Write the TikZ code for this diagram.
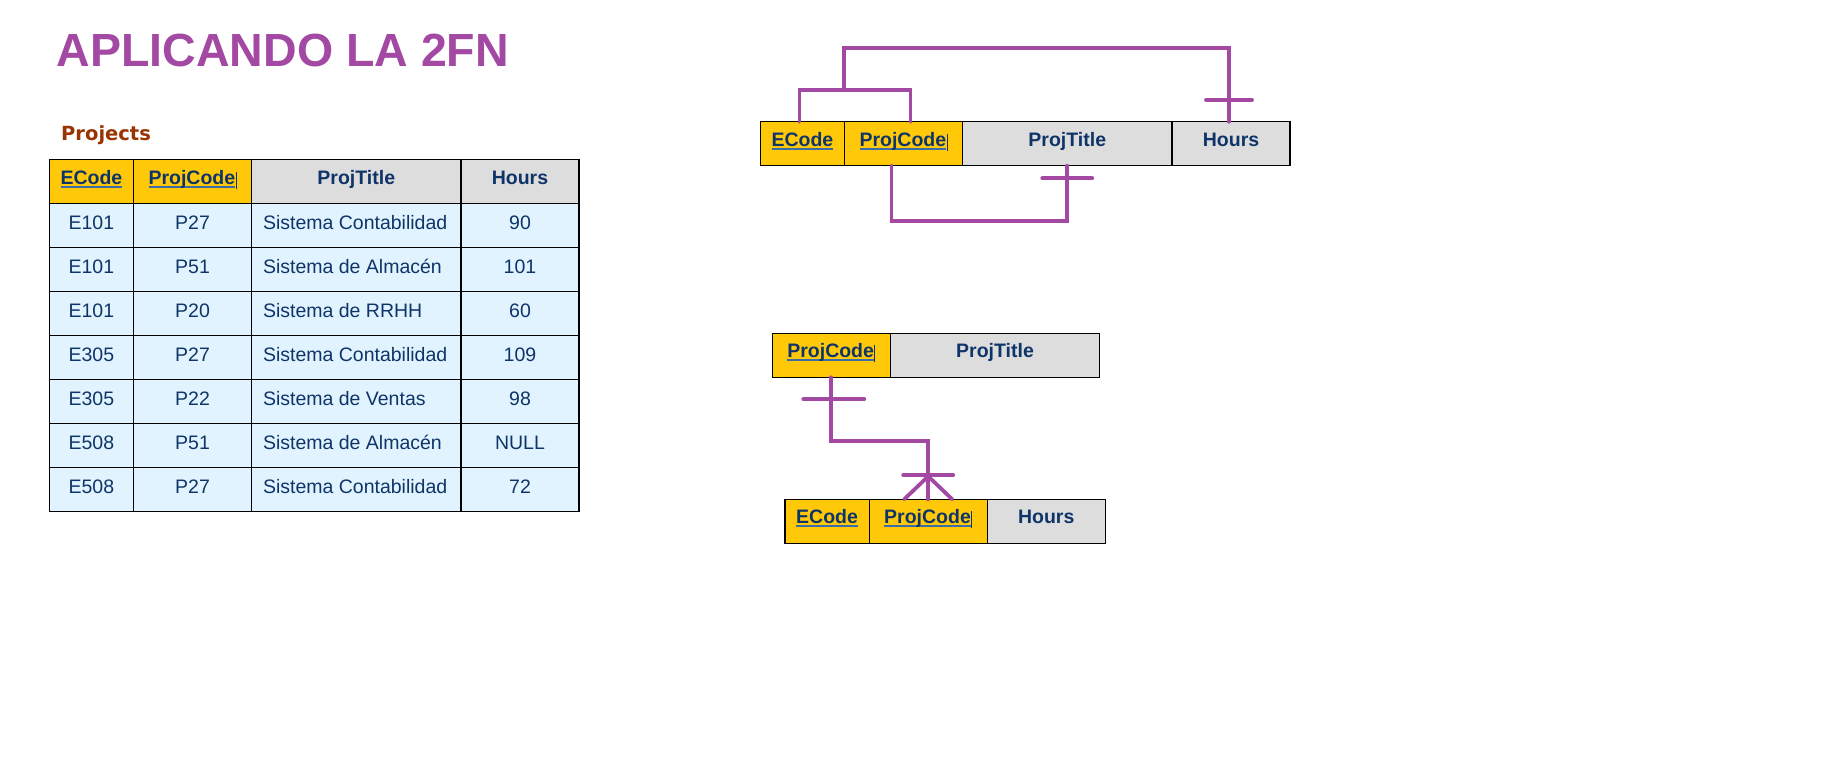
\documentclass[tikz,border=0pt]{standalone}
\usepackage{fontspec}
\setmainfont{Liberation Sans}
\newfontfamily\verdanafont{DejaVu Sans}
\usetikzlibrary{positioning}
\definecolor{fnpurple}{HTML}{A349A4}
\definecolor{keygold}{HTML}{FFC90A}
\definecolor{headgray}{HTML}{DDDDDD}
\definecolor{rowblue}{HTML}{E1F3FE}
\definecolor{navytext}{HTML}{0F3468}
\definecolor{keyline}{HTML}{3D6CA6}
\definecolor{projbrown}{HTML}{993300}
\newcommand{\pkname}[1]{\setbox0\hbox{#1}\rlap{\color{keyline}\rule[-3.4pt]{\wd0}{2pt}}\box0}
\newcommand{\cursorbar}{\kern0.5pt{\color{navytext}\rule[-4.5pt]{0.8pt}{17pt}}}
\begin{document}
\begin{tikzpicture}[x=1pt,y=-1pt,
  cell/.style={draw=black,line width=1.1pt,outer sep=0pt,inner sep=0pt,minimum height=44pt,anchor=north west,text=navytext,font=\fontsize{19.5}{23}\selectfont,text height=14pt,text depth=6pt},
  head/.style={cell,font=\bfseries\fontsize{19.5}{23}\selectfont,text height=11pt},
  keyhead/.style={head,fill=keygold},
  plainhead/.style={head,fill=headgray},
  datacell/.style={cell,fill=rowblue},
  fk/.style={draw=fnpurple,line width=3.8pt,line cap=round}]
\useasboundingbox (0,0) rectangle (1846,766);
\node[anchor=base west,inner sep=0pt,text=fnpurple,font=\bfseries\fontsize{46.5}{50}\selectfont] (title) at (56.7,66.7) {APLICANDO LA 2FN};
\node[anchor=base west,inner sep=0pt,text=projbrown,font=\verdanafont\bfseries\fontsize{19.5}{23}\selectfont] (tabname) at (61,140.7) {Projects};
% Projects table
\node[keyhead,minimum width=84.2pt] (pjE) at (49.3,159.7) {\pkname{ECode}};
\node[keyhead,minimum width=118pt,right=0pt of pjE] (pjP) {\pkname{ProjCode}\cursorbar};
\node[plainhead,minimum width=209.5pt,right=0pt of pjP] (pjT) {ProjTitle};
\node[plainhead,minimum width=118pt,right=0pt of pjT] (pjH) {Hours};
\foreach \e/\p/\t/\h [count=\i] in {E101/P27/Sistema Contabilidad/90,E101/P51/Sistema de Almacén/101,E101/P20/Sistema de RRHH/60,E305/P27/Sistema Contabilidad/109,E305/P22/Sistema de Ventas/98,E508/P51/Sistema de Almacén/NULL,E508/P27/Sistema Contabilidad/72}{
  \node[datacell,minimum width=84.2pt] (r\i-e) at (49.3,{159.7+44*\i}) {\e};
  \node[datacell,minimum width=118pt,right=0pt of r\i-e] (r\i-p) {\p};
  \node[datacell,inner xsep=11.5pt,right=0pt of r\i-p] (r\i-t) {\makebox[186.5pt][l]{\t}};
  \node[datacell,minimum width=118pt,right=0pt of r\i-t] (r\i-h) {\h};
}
% relation with composite key
\node[keyhead,minimum width=84.2pt] (kE) at (760.3,121.7) {\pkname{ECode}};
\node[keyhead,minimum width=118pt,right=0pt of kE] (kP) {\pkname{ProjCode}\cursorbar};
\node[plainhead,minimum width=209.5pt,right=0pt of kP] (kT) {ProjTitle};
\node[plainhead,minimum width=118pt,right=0pt of kT] (kH) {Hours};
\coordinate (jk) at (844.3,90);
\coordinate (jtop) at (844.3,48.3);
\draw[fk] ([xshift=-3pt]kE.north) |- (jk) -| ([xshift=7pt]kP.north);
\draw[fk] (jk) -- (jtop) -| ([xshift=-2pt]kH.north);
\draw[fk] ([xshift=-25pt,yshift=22pt]kH.north) -- ([xshift=21pt,yshift=22pt]kH.north);
\draw[fk] ([xshift=-12pt]kP.south) -- ++(0,55) -| (kT.south);
\draw[fk] ([xshift=-25pt,yshift=-12.6pt]kT.south) -- ([xshift=25pt,yshift=-12.6pt]kT.south);
% split relations
\node[keyhead,minimum width=118pt] (mP) at (772.3,333.3) {\pkname{ProjCode}\cursorbar};
\node[plainhead,minimum width=209.5pt,right=0pt of mP] (mT) {ProjTitle};
\node[keyhead,minimum width=84.2pt] (bE) at (785,499.3) {\pkname{ECode}};
\node[keyhead,minimum width=118pt,right=0pt of bE] (bP) {\pkname{ProjCode}\cursorbar};
\node[plainhead,minimum width=118pt,right=0pt of bP] (bH) {Hours};
\draw[fk] (mP.south) -- ++(0,63.7) -| (bP.north);
\draw[fk] ([xshift=-28pt,yshift=-22pt]mP.south) -- ([xshift=33pt,yshift=-22pt]mP.south);
\draw[fk] ([xshift=-25pt,yshift=24pt]bP.north) -- ([xshift=25pt,yshift=24pt]bP.north);
\draw[fk] ([yshift=23pt]bP.north) -- ([xshift=-24pt]bP.north);
\draw[fk] ([yshift=23pt]bP.north) -- ([xshift=24pt]bP.north);
\end{tikzpicture}
\end{document}
